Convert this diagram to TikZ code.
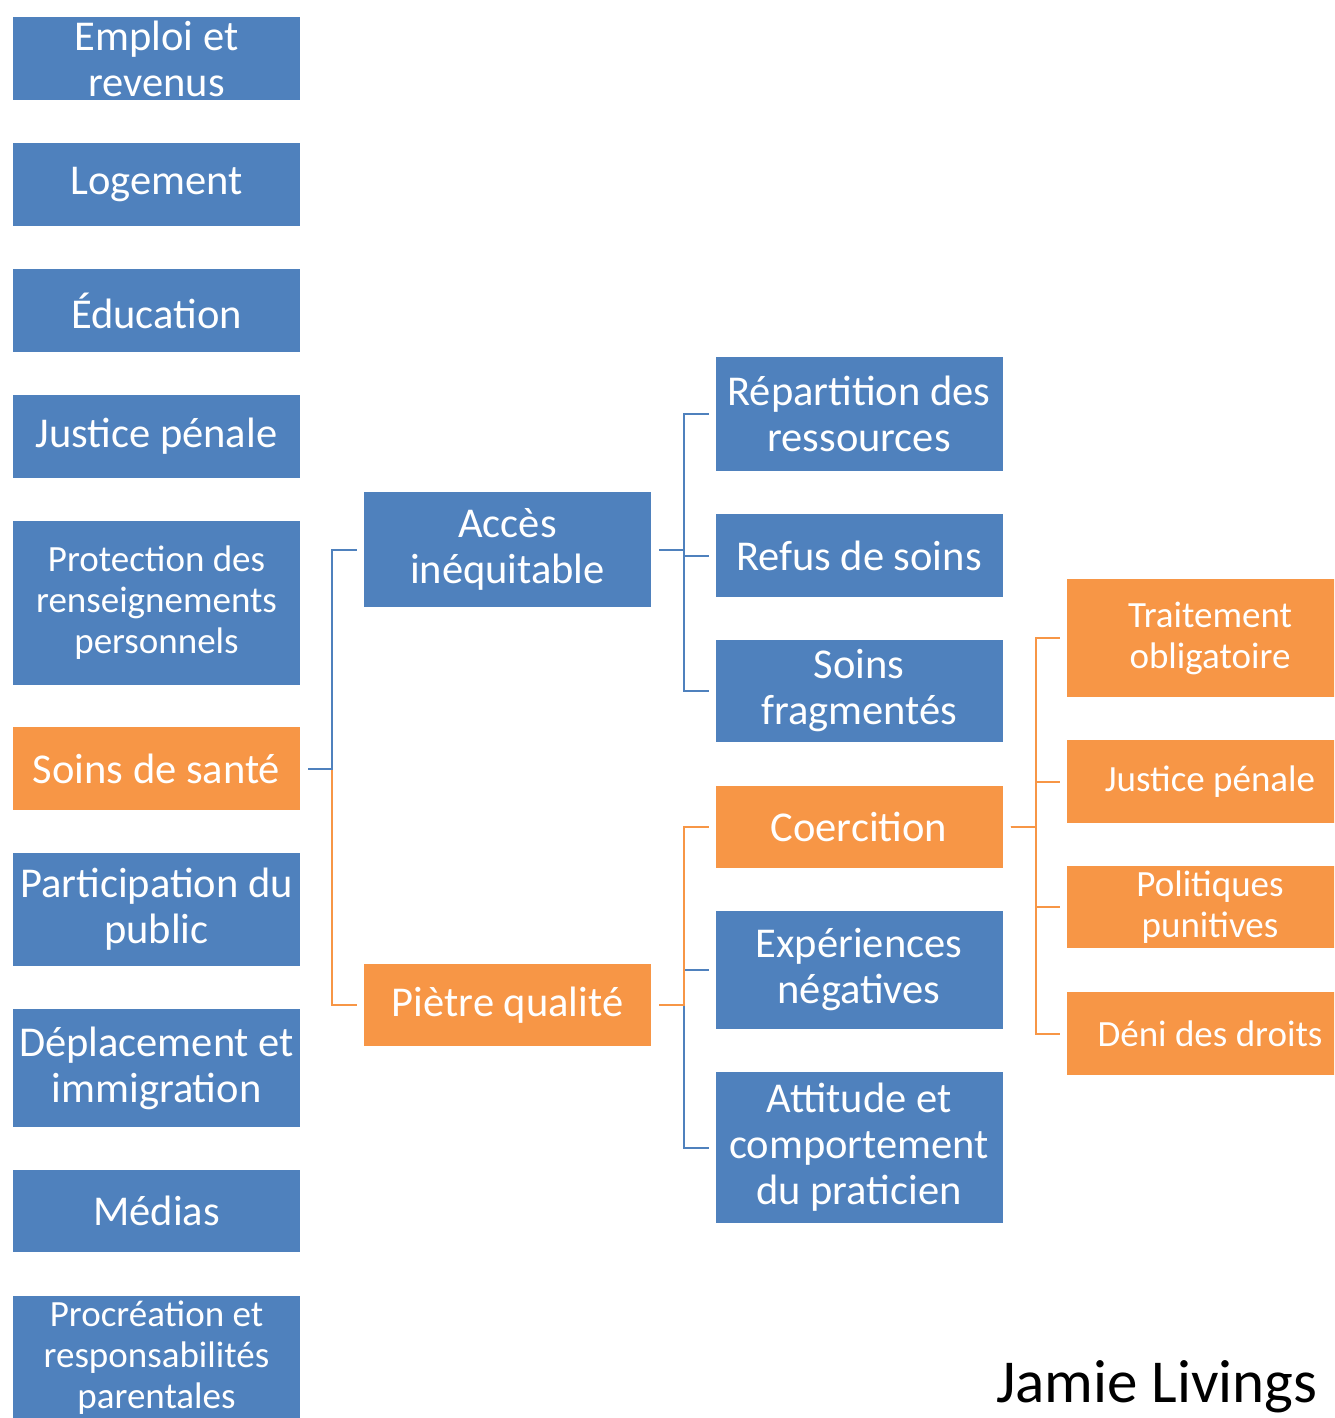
\documentclass[tikz,border=0pt]{standalone}
\usepackage{fontspec}
\setmainfont{Carlito}
\definecolor{boxblue}{HTML}{4F81BD}
\definecolor{boxorange}{HTML}{F79646}

\begin{document}
\begin{tikzpicture}[x=1pt,y=-1pt,line width=2pt,
  box/.style={rectangle,inner sep=0pt,minimum width=287,minimum height=83,text=white,align=center,font=\fontsize{42.5}{46}\selectfont},
  blue box/.style={box,fill=boxblue},
  orange box/.style={box,fill=boxorange},
  small text/.style={font=\fontsize{37}{41}\selectfont},
  link/.style={shorten <=7pt,shorten >=6pt}]
  \useasboundingbox (0,0) rectangle (1334,1418);
  \clip (0,0) rectangle (1334,1418);

  \node[blue box] (emploi) at (156.5,58.5) {Emploi et\\revenus};
  \node[blue box] (logement) at (156.5,184.5) {Logement};
  \node[blue box] (education) at (156.5,310.5) {Éducation};
  \node[blue box] (justice) at (156.5,436.5) {Justice pénale};
  \node[blue box,small text,minimum height=164] (protection) at (156.5,603) {Protection des\\renseignements\\personnels};
  \node[orange box] (sante) at (156.5,768.5) {Soins de santé};
  \node[blue box,minimum height=113] (participation) at (156.5,909.5) {Participation du\\public};
  \node[blue box,minimum height=118] (deplacement) at (156.5,1068) {Déplacement et\\immigration};
  \node[blue box,minimum height=82] (medias) at (156.5,1211) {Médias};
  \node[blue box,small text,minimum height=124] (procreation) at (156.5,1358) {Procréation et\\responsabilités\\parentales};

  \node[blue box,minimum height=115] (acces) at (507.5,549.5) {Accès\\inéquitable};
  \node[orange box,minimum height=82] (qualite) at (507.5,1005) {Piètre qualité};

  \node[blue box,minimum height=114] (repartition) at (859,414) {Répartition des\\ressources};
  \node[blue box] (refus) at (859,555.5) {Refus de soins};
  \node[blue box,minimum height=102] (fragmentes) at (859,691) {Soins\\fragmentés};
  \node[orange box,minimum height=82] (coercition) at (859,827) {Coercition};
  \node[blue box,minimum height=118] (experiences) at (859,970) {Expériences\\négatives};
  \node[blue box,minimum height=151] (attitude) at (859,1147.5) {Attitude et\\comportement\\du praticien};

  \node[orange box,small text,minimum height=118] (traitement) at (1210,638) {Traitement\\obligatoire};
  \node[orange box,small text] (justice2) at (1210,781.5) {Justice pénale};
  \node[orange box,small text,minimum height=82] (politiques) at (1210,907) {Politiques\\punitives};
  \node[orange box,small text] (deni) at (1210,1033.5) {Déni des droits};

  \node[anchor=base west,inner sep=0pt,font=\fontsize{61}{72}\selectfont] (auteur) at (995,1402) {Jamie Livings};

  % soins de sante
  \draw[boxorange,link] (sante.east) -- ++(31,0) |- (qualite.west);
  \draw[boxblue,link] (sante.east) -- ++(31,0) |- (acces.west);

  % acces inequitable
  \foreach \t in {repartition,refus,fragmentes}
    \draw[boxblue,link] (acces.east) -- ++(32,0) |- (\t.west);

  % pietre qualite
  \foreach \t in {experiences,attitude}
    \draw[boxblue,link] (qualite.east) -- ++(32,0) |- (\t.west);
  \draw[boxorange,link] (qualite.east) -- ++(32,0) |- (coercition.west);

  % coercition
  \foreach \t in {traitement,justice2,politiques,deni}
    \draw[boxorange,link] (coercition.east) -- ++(32,0) |- (\t.west);
\end{tikzpicture}
\end{document}
